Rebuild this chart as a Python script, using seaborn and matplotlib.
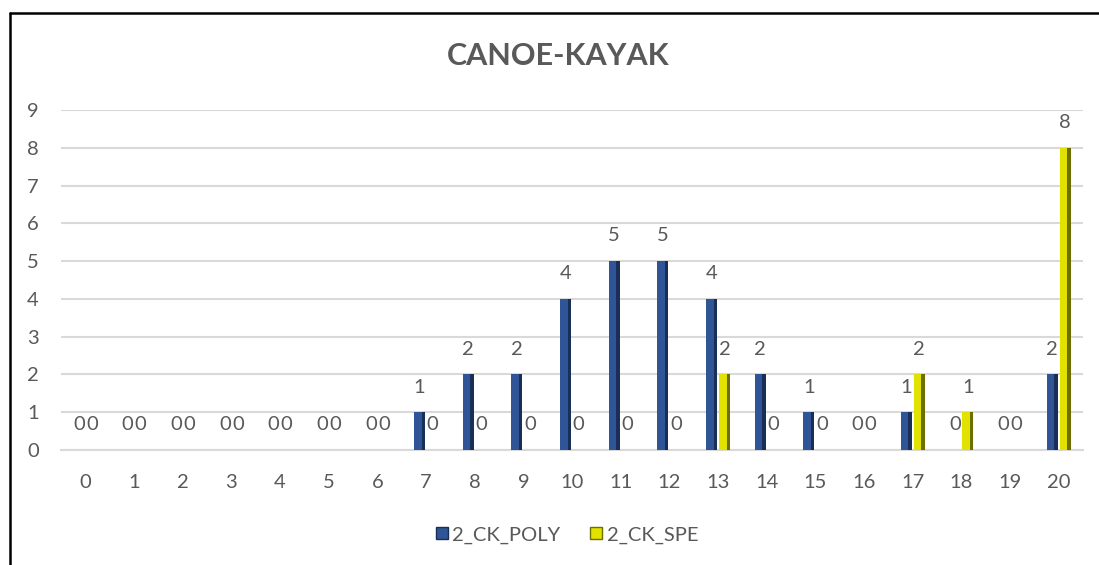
import matplotlib
matplotlib.use("Agg")
import matplotlib.pyplot as plt
import seaborn as sns
import pandas as pd
from matplotlib.patches import Rectangle
from matplotlib.lines import Line2D

categories = [str(i) for i in range(21)]
poly = [0, 0, 0, 0, 0, 0, 0, 1, 2, 2, 4, 5, 5, 4, 2, 1, 0, 1, 0, 0, 2]
spe = [0, 0, 0, 0, 0, 0, 0, 0, 0, 0, 0, 0, 0, 2, 0, 0, 0, 2, 1, 0, 8]
series_names = ["2_CK_POLY", "2_CK_SPE"]
title = "CANOE-KAYAK"

df = pd.DataFrame({
    "cat": categories * 2,
    "value": poly + spe,
    "series": [series_names[0]] * len(poly) + [series_names[1]] * len(spe),
})

sns.set_theme(style="white")
plt.rcParams["font.family"] = ["Lato", "DejaVu Sans"]
txt = "#595959"

fig = plt.figure(figsize=(10.99, 5.65), dpi=100)
ax = fig.add_axes([61 / 1099, 1 - 450 / 565, (1083 - 61) / 1099, (450 - 110) / 565])

colors = {"2_CK_POLY": "#2F5597", "2_CK_SPE": "#E2E200"}
dark = {"2_CK_POLY": "#1A2F57", "2_CK_SPE": "#6E6E00"}
sns.barplot(data=df, x="cat", y="value", hue="series", order=categories,
            hue_order=series_names, palette=colors, width=0.53, gap=0.15,
            errorbar=None, ax=ax, legend=False, zorder=3, linewidth=0,
            saturation=1)

# bevel shading derived from bar patches
for container, name in zip(ax.containers, series_names):
    for p in container.patches:
        x0, w, h = p.get_x(), p.get_width(), p.get_height()
        if h > 0:
            ax.add_patch(Rectangle((x0 + w * 0.7, 0), w * 0.3, h,
                                   facecolor=dark[name], edgecolor="none",
                                   linewidth=0, zorder=4))
    ax.bar_label(container, labels=[f"{v:g}" for v in container.datavalues],
                 padding=12, color=txt, fontsize=14.5)

ax.set_xlim(-0.5, 20.5)
ax.set_ylim(0, 9)
ax.set_yticks(range(10))
ax.yaxis.grid(True, color="#D9D9D9", linewidth=1.5, zorder=0)
ax.set_axisbelow(True)
for s in ["top", "right", "left"]:
    ax.spines[s].set_visible(False)
ax.spines["bottom"].set_color("#D9D9D9")
ax.spines["bottom"].set_linewidth(1.5)
ax.tick_params(axis="both", length=0, labelsize=14.5, labelcolor=txt)
ax.tick_params(axis="x", pad=17)
ax.tick_params(axis="y", pad=16)
ax.set_xlabel("")
ax.set_ylabel("")

fig.text(0.508, 0.901, title, ha="center", va="center", fontsize=22,
         fontweight="bold", color=txt)

handles = [Line2D([0], [0], marker="s", linestyle="none", markersize=8,
                  markerfacecolor=colors[n], markeredgecolor=dark[n]) for n in series_names]
fig.legend(handles, series_names, loc="center", bbox_to_anchor=(0.515, 0.053),
           ncol=2, frameon=False, fontsize=14.5, labelcolor=txt,
           handletextpad=0.1, columnspacing=1.4, handlelength=0.8)

# outer frame (top and left edges visible)
fig.add_artist(Line2D([9.5 / 1099, 9.5 / 1099], [0, 1 - 12.5 / 565],
                      color="black", linewidth=1.8, transform=fig.transFigure))
fig.add_artist(Line2D([9.5 / 1099, 1], [1 - 12.5 / 565, 1 - 12.5 / 565],
                      color="black", linewidth=1.8, transform=fig.transFigure))

fig.savefig("out.png", dpi=100)
